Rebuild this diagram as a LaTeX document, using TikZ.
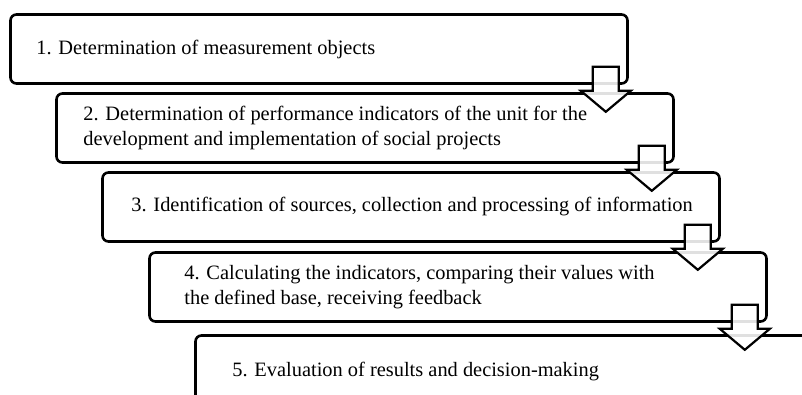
\documentclass[tikz,border=0pt]{standalone}
\usepackage{fontspec}
\setmainfont{Liberation Serif}
\usepackage{tikz}
\usetikzlibrary{positioning}

\newcommand{\steparrow}[1]{%
  \draw[arrowbox, shift={(#1.south east)}] (-36,18) -- (-10,18) -- (-10,-6)
    -- (2,-6) -- (-23,-27) -- (-48,-6) -- (-36,-6) -- cycle;}

\begin{document}
\begin{tikzpicture}[x=1pt, y=1pt,
    stepbox/.style={draw, line width=2.6pt, rounded corners=6pt,
      minimum width=617pt, minimum height=69pt, inner sep=0pt},
    steptext/.style={align=left, inner sep=0pt,
      font=\fontsize{20.4}{24.5}\selectfont},
    arrowbox/.style={line width=2.2pt, line join=miter, fill=white, fill opacity=0.88}]

      \useasboundingbox (0,0) rectangle (802,-394);
      \clip (0,0) rectangle (802,-394);

      \node[stepbox] (s1) at (319,-49) {};
      \node[stepbox] (s2) at (365,-128) {};
      \node[stepbox] (s3) at (411,-207) {};
      \node[stepbox] (s4) at (458,-287) {};
      \node[stepbox] (s5) at (504,-370) {};

      \node[steptext, right=27pt of s1.west] (t1) {1. Determination of measurement objects};
      \node[steptext, right=28pt of s2.west] (t2) {2. Determination of performance indicators of the unit for the\\development and implementation of social projects};
      \node[steptext, right=30pt of s3.west] (t3) {3. Identification of sources, collection and processing of information};
      \node[steptext, right=36pt of s4.west] (t4) {4. Calculating the indicators, comparing their values with\\the defined base, receiving feedback};
      \node[steptext, right=38pt of s5.west, yshift=-2pt] (t5) {5. Evaluation of results and decision-making};

      \steparrow{s1}
      \steparrow{s2}
      \steparrow{s3}
      \steparrow{s4}
\end{tikzpicture}
\end{document}
